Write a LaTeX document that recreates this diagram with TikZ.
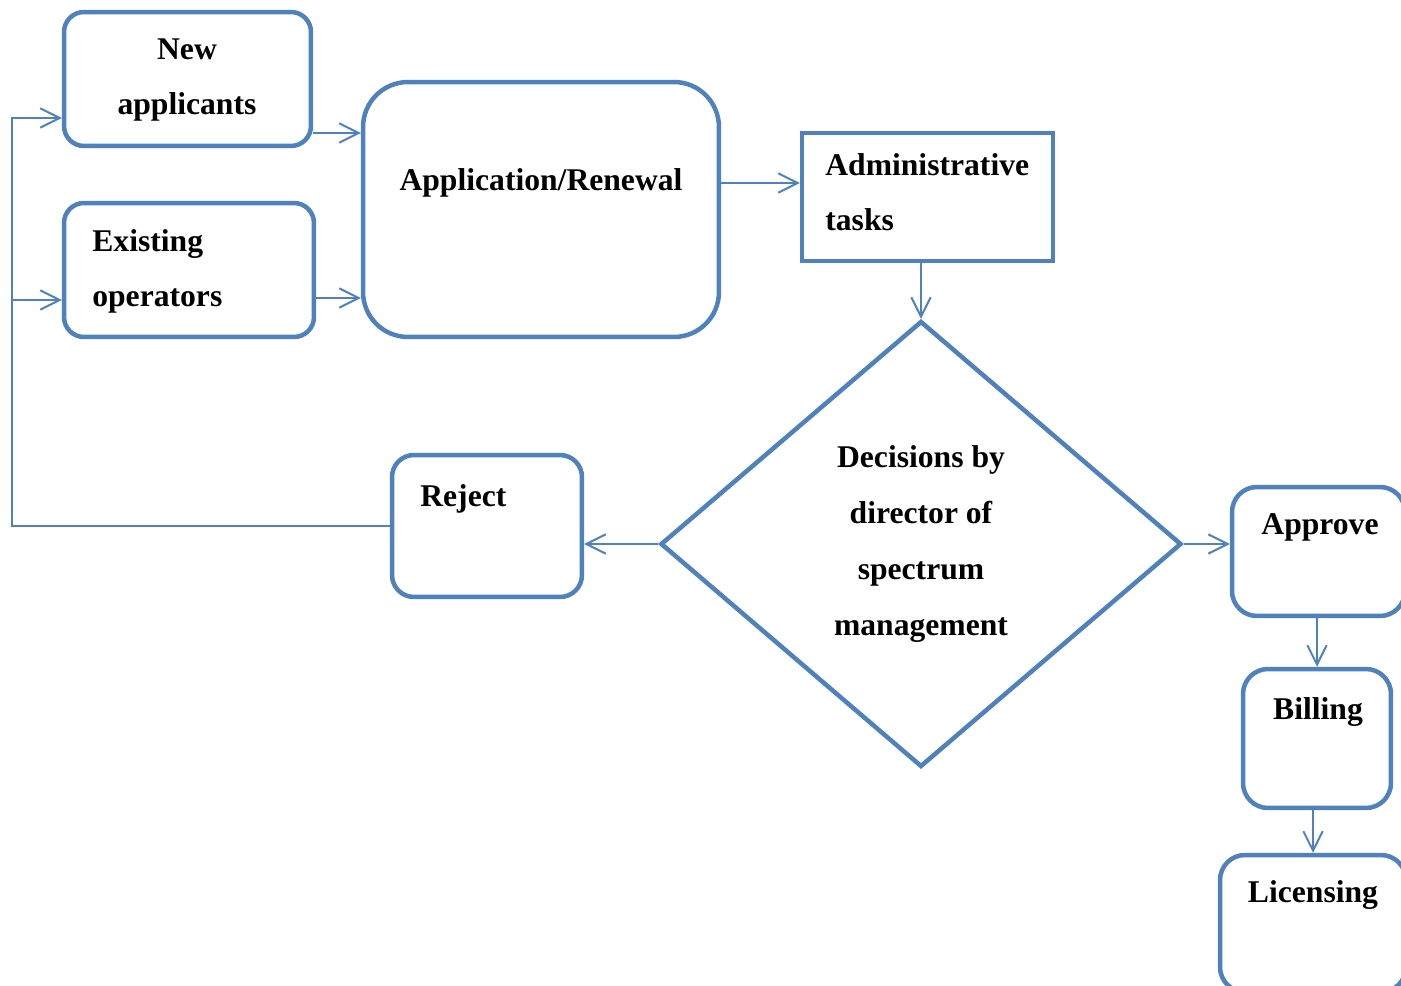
\documentclass[tikz,border=0pt]{standalone}
\usepackage{fontspec}
\setmainfont{Liberation Serif}
\usetikzlibrary{shapes.geometric,arrows.meta}
\definecolor{boxblue}{HTML}{4F81BD}

\begin{document}
\begin{tikzpicture}[x=0.02cm,y=-0.02cm,
  box/.style={draw=boxblue, line width=0.09cm, rounded corners=0.4cm, inner sep=0pt},
  conn/.style={draw=boxblue, line width=0.04cm, -{Straight Barb[length=11pt,width=11pt]}},
  txt/.style={inner sep=0pt, font=\bfseries\fontsize{18}{31.75}\selectfont}]
\useasboundingbox (0,0) rectangle (1401,986);

% boxes
\node[box, minimum width=4.94cm, minimum height=2.68cm] (newapp) at (187.5,79) {};
\node[box, minimum width=5cm, minimum height=2.68cm] (existing) at (189,270) {};
\node[box, rounded corners=0.9cm, minimum width=7.12cm, minimum height=5.1cm] (app) at (541,209.5) {};
\node[box, rounded corners=0pt, minimum width=5.02cm, minimum height=2.56cm] (admin) at (927.5,197) {};
\node[box, shape=diamond, rounded corners=0pt, minimum width=10.42cm, minimum height=8.92cm,
      align=center, txt] (decision) at (921,544)
      {Decisions by\\director of\\spectrum\\management};
\node[box, rounded corners=0.44cm, minimum width=3.8cm, minimum height=2.84cm] (reject) at (487,526) {};
\node[box, rounded corners=0.5cm, minimum width=3.46cm, minimum height=2.58cm] (approve) at (1318.5,551.5) {};
\node[box, rounded corners=0.5cm, minimum width=2.96cm, minimum height=2.78cm] (billing) at (1317,738.5) {};
\node[box, rounded corners=0.5cm, minimum width=3.72cm, minimum height=2.74cm] (licensing) at (1313,923.5) {};

% texts (base = last line)
\node[txt, align=center, anchor=base] (newapptext) at (187,115) {New\\applicants};
\node[txt, align=left, anchor=base west] (existingtext) at (92,307) {Existing\\operators};
\node[txt, anchor=base] (apptext) at (541,191) {Application/Renewal};
\node[txt, align=left, anchor=base west] (admintext) at (825,231) {Administrative\\tasks};
\node[txt, anchor=base west] (rejecttext) at (420,507) {Reject};
\node[txt, anchor=base] (approvetext) at (1320,535) {Approve};
\node[txt, anchor=base] (billingtext) at (1318,720) {Billing};
\node[txt, anchor=base] (licensingtext) at (1313,902) {Licensing};

% connectors
\coordinate (loopnew) at (12,118);
\coordinate (loopold) at (12,300);
\draw[conn] (newapp.east |- 0,133) -- (app.west |- 0,133);
\draw[conn] (existing.east |- 0,298) -- (app.west |- 0,298);
\draw[conn] (app.east |- 0,183) -- (admin.west |- 0,183);
\draw[conn] (admin.south -| decision.north) -- (decision.north);
\draw[conn] (decision.west) -- (reject.east |- decision.west);
\draw[conn] (decision.east) -- (approve.west |- decision.east);
\draw[conn] (approve.south -| billing.north) -- (billing.north);
\draw[conn] (billing.south -| licensing.north) -- (licensing.north);
\draw[conn] (reject.west) -| (loopnew) -- (newapp.west |- loopnew);
\draw[conn] (loopold) -- (existing.west |- loopold);
\end{tikzpicture}
\end{document}
